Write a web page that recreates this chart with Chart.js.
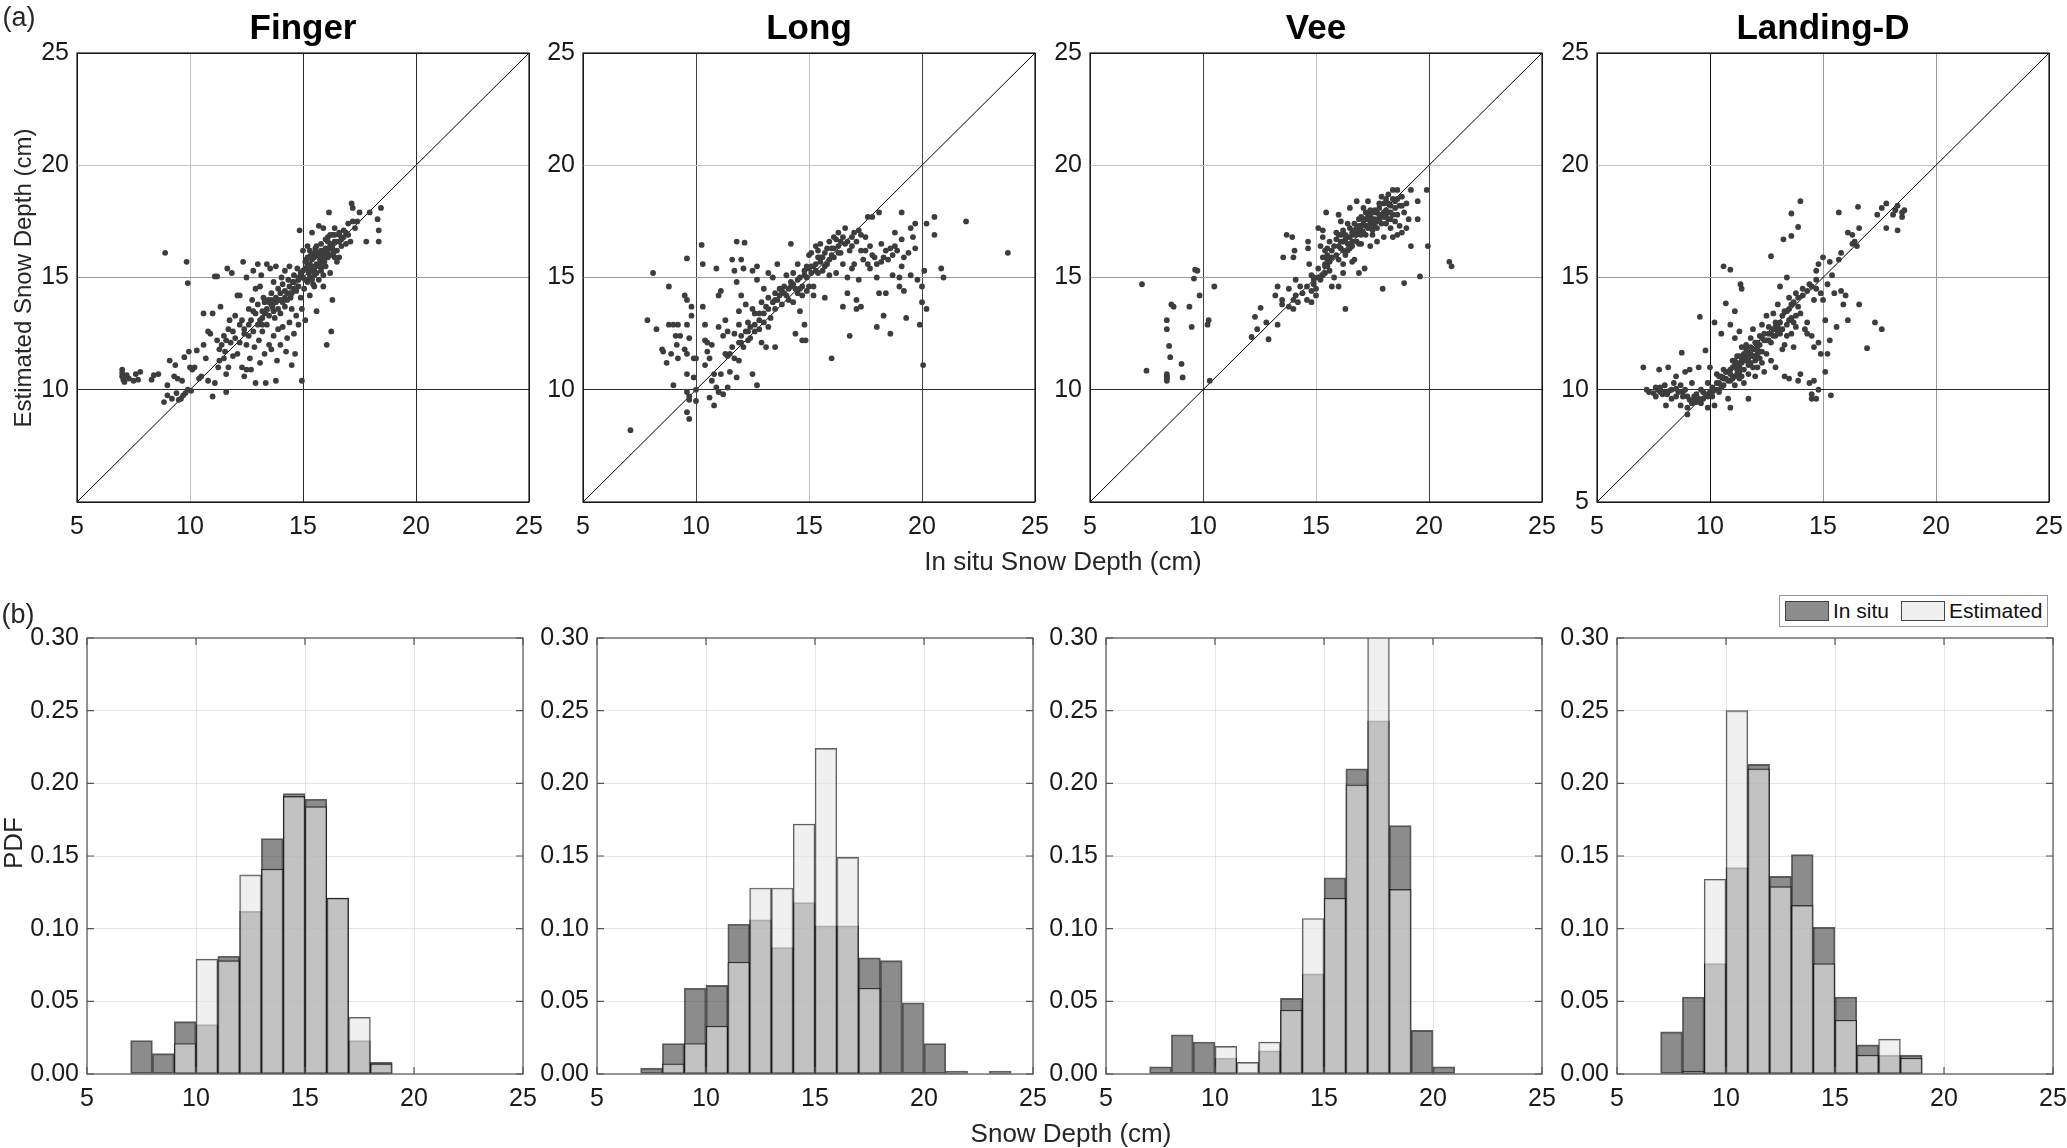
<!DOCTYPE html>
<html>
<head>
<meta charset="utf-8">
<script src="https://cdn.jsdelivr.net/npm/chart.js@4.4.1/dist/chart.umd.min.js"></script>
<style>
  body { margin: 0; background: #fff; }
  #fig { position: relative; width: 2067px; height: 1148px; overflow: hidden;
         font-family: "Liberation Sans", Arial, sans-serif; color: #262626; }
  #fig canvas { position: absolute; }
  .lbl { position: absolute; white-space: nowrap; line-height: 1; }
  #legend { position: absolute; left: 1779px; top: 595px; width: 267px; height: 30px;
            border: 1px solid #999; background: #fff; display: flex; align-items: center;
            font-size: 21px; color: #111; }
  #legend .sw { width: 42px; height: 18px; border: 1px solid #444; margin: 0 4px 0 5px; }
</style>
</head>
<body>
<div id="fig">
  <div id="legend">
    <div class="sw" style="background:#8c8c8c"></div><span>In situ</span>
    <div class="sw" style="background:#f0f0f0;margin-left:12px"></div><span>Estimated</span>
  </div>
</div>
<script>
// ---------------- data ----------------
const siteNames = ['Finger', 'Long', 'Vee', 'Landing-D'];
const depthTicks = [5, 10, 15, 20, 25];
const pdfTicks = [0, 0.05, 0.10, 0.15, 0.20, 0.25, 0.30];
const oneToOne = [5, 25];

// (a) in situ vs estimated snow depth, [in situ, estimated] in cm
const fingerPts = [
  [7.0,10.9],[7.0,10.75],[7.0,10.6],[7.05,10.45],[7.1,10.35],[7.2,10.65],[7.3,10.5],[7.5,10.4],[7.6,10.7],[7.7,10.45],[7.8,10.8],[8.3,10.45],[8.4,10.65],[8.6,10.7],
  [8.85,9.45],[8.9,16.1],[9.0,10.2],[9.0,9.75],[9.1,11.3],[9.2,9.6],[9.3,10.6],[9.35,11.1],[9.4,9.85],[9.45,10.5],[9.5,9.55],
  [9.6,9.6],[9.65,10.4],[9.7,9.75],[9.75,11.45],[9.8,9.85],[9.85,15.7],[9.9,14.75],[9.9,10.0],[9.95,11.7],[10.0,11.0],[10.05,9.95],[10.1,10.9],[10.2,11.0],[10.3,11.75],[10.4,10.5],[10.5,10.6],[10.6,13.4],[10.6,12.0],[10.7,11.4],[10.8,10.4],[10.8,12.6],
  [10.9,12.5],[11.0,9.7],[11.0,13.4],[11.1,15.05],[11.1,10.3],[11.2,15.05],[11.2,12.2],[11.25,11.0],[11.3,11.3],[11.35,13.7],[11.4,12.0],[11.5,11.4],[11.5,12.4],[11.55,11.7],[11.6,9.9],[11.6,10.7],[11.65,15.4],[11.7,12.7],[11.7,11.0],[11.75,13.1],[11.8,12.1],[11.85,15.2],[11.9,11.5],
  [12.0,12.3],[12.0,13.3],[12.1,14.2],[12.1,11.6],[12.2,14.2],[12.2,12.9],[12.3,11.0],[12.3,13.1],[12.35,15.7],[12.4,12.7],[12.4,10.6],[12.5,10.9],[12.5,15.0],[12.5,12.0],[12.6,13.6],[12.6,12.4],[12.65,11.4],[12.7,10.9],[12.7,13.1],[12.75,14.0],[12.8,15.3],[12.8,12.6],[12.85,11.9],[12.9,10.3],[12.9,14.5],
  [13.0,15.6],[13.0,13.8],[13.0,12.9],[13.05,12.2],[13.1,14.6],[13.1,11.2],[13.15,15.1],[13.2,13.5],[13.2,12.6],[13.25,14.1],[13.3,13.9],[13.3,11.6],[13.35,10.3],[13.4,15.6],[13.4,12.9],[13.45,14.0],[13.5,13.3],[13.5,12.0],[13.55,15.4],[13.6,14.3],[13.6,11.8],[13.65,13.7],[13.7,14.8],[13.7,12.4],[13.75,13.2],[13.8,15.5],[13.8,14.1],[13.8,10.4],[13.85,11.3],[13.9,12.7],[13.9,14.5],
  [14.0,14.0],[14.0,13.4],[14.0,12.0],[14.05,15.0],[14.1,14.7],[14.1,12.8],[14.2,15.3],[14.2,13.7],[14.25,11.7],[14.3,14.3],[14.3,12.3],[14.35,14.9],[14.4,13.0],[14.4,15.5],[14.45,14.1],[14.5,11.1],[14.5,13.6],[14.55,14.8],[14.6,12.5],[14.6,15.1],[14.65,11.6],[14.7,14.4],[14.7,13.3],[14.75,15.4],[14.8,14.9],[14.8,12.9],[14.85,17.1],[14.9,15.2],[14.9,14.1],[14.95,10.4],[14.95,13.6],
  [15.0,15.0],[15.0,16.2],[15.05,14.5],[15.1,15.4],[15.1,13.1],[15.15,15.8],[15.2,14.8],[15.2,16.4],[15.25,15.2],[15.3,14.2],[15.3,15.6],[15.35,16.0],[15.4,15.3],[15.4,17.0],[15.45,14.7],[15.5,15.9],[15.5,15.1],[15.55,16.3],[15.6,13.5],[15.6,15.6],[15.65,16.1],[15.7,17.3],[15.7,14.9],[15.75,15.8],[15.8,16.5],[15.8,15.3],[15.85,16.0],[15.9,17.2],[15.9,14.6],[15.95,15.7],
  [16.0,16.3],[16.0,15.5],[16.05,12.0],[16.1,16.8],[16.1,15.9],[16.15,17.9],[16.2,16.4],[16.2,15.2],[16.25,12.6],[16.3,14.0],[16.3,16.9],[16.35,16.1],[16.4,17.2],[16.4,16.6],[16.5,16.2],[16.5,15.7],[16.6,16.9],[16.6,17.0],[16.7,16.4],[16.8,16.8],[16.9,17.0],[16.9,16.5],
  [17.0,17.4],[17.1,16.6],[17.15,18.3],[17.2,18.1],[17.2,17.5],[17.3,17.2],[17.4,17.5],[17.5,17.9],[17.8,16.6],[17.95,17.9],[18.3,17.6],[18.35,17.1],[18.35,16.6],[18.45,18.1],
  [15.6,16.0],[15.8,15.9],[16.0,16.1],[15.4,15.5],[15.2,15.5],[15.0,15.3],[14.8,15.0],[14.6,14.8],[14.4,14.6],[14.2,14.4],[13.9,14.0],[13.6,13.8],[13.4,13.6],[13.2,13.2],[16.3,16.5],[16.1,16.6],[15.9,16.2],[15.7,15.5],[15.5,15.4],[15.3,15.0],
  [15.1,15.7],[15.2,15.9],[15.3,16.2],[15.4,15.8],[15.5,16.1],[15.6,16.4],[15.7,16.0],[15.8,16.2],[15.9,15.5],[16.0,15.9],[16.1,16.2],[16.2,16.0],[16.3,16.3],[16.4,15.9],[16.5,16.6],[15.3,15.3],[15.1,14.9],[15.4,14.9],[15.6,15.2],[15.8,15.7],[16.0,16.7],[16.2,16.9],[16.4,16.9],[16.6,16.6],[16.8,17.1],[17.0,16.9],[16.7,16.7],
  [14.5,14.3],[14.3,14.0],[14.1,13.9],[13.9,13.6],[13.7,13.5],[13.5,13.9],[13.3,13.4],[13.1,13.1],[13.6,14.0],[13.8,13.9],[14.0,14.3],[14.2,14.1],[14.6,14.5],[14.8,14.6],[12.6,12.9],[12.4,12.5],[12.9,13.4],[13.2,12.9],[11.9,12.6],[11.6,12.2],[11.3,11.8],[12.2,12.1],[12.8,13.5],[16.6,15.9],[15.5,14.6],[15.9,15.1]
];

const longPts = [
  [7.1,8.2],[7.85,13.1],[8.1,15.2],[8.25,12.7],[8.5,11.8],[8.55,11.7],[8.7,11.2],[8.8,14.6],[8.8,12.9],[8.9,11.6],[9.0,10.2],[9.0,12.9],[9.1,12.4],[9.15,12.0],[9.2,12.9],[9.2,11.4],[9.3,12.4],
  [9.5,14.2],[9.5,11.8],[9.6,15.85],[9.6,14.0],[9.6,12.9],[9.6,10.7],[9.6,11.6],[9.6,9.9],[9.7,9.7],[9.7,9.55],[9.6,9.0],[9.7,8.7],[9.7,12.3],[9.8,13.3],[9.8,13.7],[9.9,11.4],[9.9,10.55],[10.0,11.4],[10.0,9.5],[10.0,10.0],
  [10.25,16.45],[10.3,15.6],[10.3,13.7],[10.4,12.2],[10.4,11.1],[10.4,12.9],[10.5,12.1],[10.5,11.7],[10.6,11.4],[10.6,9.65],[10.7,10.4],[10.7,12.0],[10.8,10.7],[10.8,9.3],[10.9,10.1],[10.9,15.4],[11.0,12.8],[11.0,9.9],[11.0,14.2],[11.1,14.4],[11.1,10.7],[11.2,12.4],[11.2,9.8],[11.3,13.1],[11.3,11.6],[11.4,12.6],[11.4,10.1],[11.5,11.6],[11.5,10.8],[11.6,15.8],[11.7,15.3],[11.7,12.5],[11.7,11.4],[11.8,14.8],[11.8,16.6],[11.8,10.55],[11.9,13.5],[11.9,12.9],[11.9,11.3],[12.0,15.8],[12.0,14.2],[12.0,12.1],[12.1,15.4],[12.1,11.9],[12.15,16.55],[12.2,13.8],[12.2,12.6],[12.3,12.2],[12.3,13.0],
  [12.4,12.3],[12.5,15.3],[12.5,13.6],[12.5,10.7],[12.6,12.9],[12.6,13.4],[12.7,15.5],[12.7,10.2],[12.7,14.9],[12.8,12.7],[12.8,13.4],[12.9,13.9],[12.9,12.1],[13.0,13.0],[13.0,14.5],[13.1,13.7],[13.1,11.9],[13.2,15.2],[13.2,12.8],[13.2,14.1],[13.3,13.2],[13.4,13.9],[13.4,15.0],[13.5,11.9],[13.5,14.3],[13.5,13.6],[13.6,15.6],[13.6,14.0],
  [13.7,14.5],[13.8,14.4],[13.8,13.8],[13.9,14.6],[14.0,14.2],[14.0,15.1],[14.1,14.0],[14.2,16.5],[14.2,14.8],[14.3,13.9],[14.3,15.2],[14.4,12.5],[14.4,14.5],[14.5,15.6],[14.5,14.3],[14.6,13.5],[14.6,15.0],[14.7,14.6],[14.7,12.2],[14.8,15.3],[14.8,12.9],[14.85,12.2],[14.9,14.4],[14.9,15.5],[15.0,14.6],[15.0,16.0],[15.0,15.4],
  [15.1,15.2],[15.1,16.1],[15.2,14.6],[15.2,14.2],[15.3,15.6],[15.3,16.4],[15.4,15.9],[15.5,15.7],[15.5,16.5],[15.6,15.3],[15.7,14.1],[15.7,16.1],[15.8,15.6],[15.9,16.6],[15.9,15.1],[16.0,11.4],[16.0,16.3],[16.1,15.9],[16.1,16.8],[16.2,15.2],[16.3,16.4],[16.3,17.0],[16.4,16.1],[16.5,15.6],[16.5,13.7],[16.6,17.2],[16.6,16.5],[16.7,15.0],[16.7,14.3],[16.8,12.4],[16.8,16.2],[16.9,15.4],[16.9,16.8],
  [17.0,15.6],[17.0,17.0],[17.1,14.0],[17.1,13.6],[17.2,14.9],[17.2,17.1],[17.3,16.2],[17.3,13.7],[17.4,15.8],[17.5,16.8],[17.6,17.7],[17.7,16.4],[17.7,15.4],[17.8,17.7],[17.9,15.9],[18.0,12.8],[18.0,15.0],[18.1,17.9],[18.1,14.3],[18.2,15.7],[18.2,16.5],[18.3,13.3],[18.4,14.3],[18.4,16.2],
  [18.5,15.8],[18.6,12.5],[18.7,16.0],[18.7,15.1],[18.8,17.0],[18.9,16.2],[19.0,14.6],[19.0,15.0],[19.1,17.9],[19.1,15.5],[19.1,16.7],[19.2,14.4],[19.3,13.2],[19.4,16.1],[19.5,17.2],[19.5,15.1],[19.6,16.8],[19.7,17.4],[19.7,16.3],[19.8,14.9],[19.9,12.9],[20.0,13.9],[20.0,14.6],[20.05,11.1],[20.1,15.3],[20.2,17.4],[20.2,13.6],[20.55,17.7],[20.55,16.9],[20.85,15.4],[20.95,15.0],[21.95,17.5],[23.8,16.1],
  [14.5,14.9],[14.8,15.1],[15.2,15.5],[15.6,15.9],[16.0,16.0],[16.4,16.6],[13.5,14.0],[13.9,14.3],[14.2,14.6],[12.3,12.6],[12.0,12.4],[11.9,12.1],[15.4,15.2],[15.8,16.3],
  [14.1,14.5],[14.3,14.7],[14.6,14.5],[14.9,15.0],[15.1,15.5],[15.3,15.3],[15.5,15.9],[15.7,15.5],[15.9,15.8],[16.1,16.3],[16.3,16.1],[16.5,16.8],[16.7,16.6],[16.9,16.4],[17.1,16.6],[17.3,16.9],[17.5,16.2],[17.8,16.0],[18.0,15.6],[18.3,15.9],[18.6,16.3],
  [13.2,13.6],[13.0,13.4],[12.8,13.1],[12.6,12.6],[12.4,12.8],[11.6,11.9],[11.4,11.5],[13.7,14.2],[14.7,14.2],[15.4,16.2],[16.2,16.7],[17.6,15.6],[18.8,16.4],[19.2,15.9]
];

const veePts = [
  [7.3,14.7],[7.5,10.85],[8.4,10.7],[8.4,10.6],[8.4,10.5],[8.4,10.4],[8.4,10.55],[8.4,13.1],[8.4,12.7],[8.5,11.95],[8.55,11.45],[8.6,13.8],[8.7,13.7],[9.05,11.15],[9.1,10.55],
  [9.4,13.7],[9.5,12.8],[9.6,14.95],[9.65,15.35],[9.75,15.3],[9.85,14.2],[10.2,12.9],[10.25,13.1],[10.3,10.4],[10.5,14.6],
  [12.15,12.35],[12.3,13.25],[12.4,12.7],[12.55,13.65],[12.8,13.0],[12.9,12.25],[13.2,14.2],[13.3,12.9],[13.3,14.6],[13.5,14.0],[13.5,13.8],[13.55,15.9],[13.7,16.9],[13.8,14.5],[13.8,13.7],[13.95,16.8],[14.0,15.9],[14.05,16.2],[14.0,14.0],[14.0,13.6],[14.1,14.9],[14.1,14.2],[14.2,13.9],[14.3,14.6],[14.4,14.3],
  [14.6,14.0],[14.6,14.6],[14.65,16.6],[14.65,16.3],[14.7,15.6],[14.8,15.1],[14.8,14.4],[14.8,13.9],[14.9,14.7],[14.9,15.0],[15.0,14.2],[15.0,14.5],[15.1,15.4],[15.1,17.2],[15.2,14.9],[15.2,16.4],[15.3,17.1],[15.3,15.9],[15.3,16.8],[15.4,15.6],[15.4,16.2],[15.4,15.2],[15.45,17.9],[15.5,15.8],[15.5,16.0],[15.6,15.3],[15.6,16.6],[15.7,14.6],[15.7,15.9],[15.8,16.4],[15.8,15.0],[15.9,17.0],[15.9,16.7],[16.0,17.8],[16.0,14.6],[16.0,15.8],
  [16.1,16.9],[16.1,17.5],[16.1,16.3],[16.2,15.2],[16.2,17.1],[16.2,15.6],[16.3,13.6],[16.3,16.7],[16.3,16.0],[16.4,17.4],[16.4,16.8],[16.5,18.1],[16.5,17.2],[16.5,16.3],[16.6,17.0],[16.6,15.7],[16.7,16.9],[16.7,17.4],[16.7,15.8],[16.8,18.4],[16.8,16.6],[16.8,17.2],[16.9,17.6],[16.9,15.2],[16.9,16.5],
  [17.0,17.1],[17.0,16.9],[17.0,17.7],[17.1,18.1],[17.1,17.4],[17.15,15.4],[17.2,17.6],[17.2,16.9],[17.3,17.8],[17.3,18.4],[17.3,17.2],[17.4,17.5],[17.4,16.4],[17.5,17.9],[17.5,17.3],[17.5,16.9],[17.6,17.6],[17.6,18.0],[17.7,17.2],[17.7,16.6],[17.8,17.8],[17.8,18.3],[17.9,17.4],[17.95,14.5],[18.0,17.9],[18.0,16.8],
  [18.1,18.5],[18.1,18.0],[18.2,17.6],[18.2,18.7],[18.3,17.2],[18.3,18.2],[18.4,17.8],[18.4,16.8],[18.5,18.4],[18.5,17.5],[18.6,18.9],[18.6,16.9],[18.7,18.2],[18.7,17.3],[18.8,17.0],[18.9,14.75],[18.9,17.9],[19.0,18.3],[19.1,17.6],[19.2,16.4],[19.2,18.9],[19.5,18.4],[19.5,17.6],[19.6,15.05],[19.9,18.9],[19.95,16.4],[20.9,15.7],[21.0,15.5],
  [17.2,17.3],[17.4,17.7],[17.6,17.4],[17.8,17.6],[18.0,17.7],[18.2,17.9],[17.0,17.3],[16.8,17.0],[16.6,16.6],[16.4,16.5],[16.2,16.6],[16.0,16.4],[17.3,17.6],[17.5,17.6],[17.7,17.9],[18.1,17.4],[18.3,17.9],[18.5,18.1],[15.6,15.7],[15.4,15.5],[15.5,16.3],
  [16.1,16.6],[16.3,16.9],[16.5,16.8],[16.7,17.1],[16.9,17.3],[17.1,17.6],[17.2,17.9],[17.4,18.0],[17.6,17.9],[17.8,18.1],[18.0,18.3],[18.2,18.3],[18.4,18.5],[18.6,18.5],[18.8,18.6],[17.1,17.0],[17.3,17.3],[17.5,17.1],[17.7,17.5],[17.9,17.8],
  [18.1,17.7],[18.3,17.6],[18.6,17.8],[16.4,16.2],[16.6,16.4],[16.8,16.9],[15.9,16.0],[15.7,16.2],[15.5,15.5],[15.3,15.1],[15.1,15.0],[14.9,14.9],[16.0,16.9],[16.2,16.2],[17.0,16.5],[18.4,18.9],[18.8,18.2],[19.0,17.2],[17.9,18.6]
];

const landingPts = [
  [7.05,11.0],[7.2,10.0],[7.3,9.9],[7.5,9.85],[7.6,9.7],[7.7,10.0],[7.8,9.9],[7.8,10.1],[7.75,10.9],[8.0,9.9],[8.0,10.2],[8.05,9.3],[8.1,9.8],[8.15,11.0],[8.3,10.0],[8.4,10.3],[8.5,10.6],[8.6,9.9],[8.7,9.3],[8.7,10.2],[8.75,11.65],[8.9,10.0],[8.9,10.8],[9.0,9.2],[9.0,9.7],[9.1,10.9],[9.0,8.9],[9.2,10.3],[9.3,9.7],[9.3,9.5],[9.4,9.8],[9.5,11.0],[9.55,13.25],[9.6,9.4],[9.6,10.0],[9.7,9.6],[9.8,11.75],[9.8,9.8],[9.9,9.2],[9.9,10.3],
  [10.0,11.0],[10.0,9.9],[10.1,10.1],[10.2,9.3],[10.2,13.0],[10.3,10.3],[10.3,10.7],[10.4,9.9],[10.5,12.5],[10.5,10.6],[10.6,15.5],[10.6,10.2],[10.7,10.8],[10.7,13.85],[10.8,9.6],[10.8,10.4],[10.9,15.35],[10.9,9.2],[10.9,10.9],[10.9,12.9],[11.0,11.3],[11.0,10.5],[11.1,13.5],[11.1,12.3],[11.1,11.1],[11.2,10.7],[11.2,11.5],[11.3,12.6],[11.3,11.0],[11.7,9.6],[11.35,14.7],[11.4,14.5],[11.4,11.9],[11.5,11.3],[11.5,10.3],[11.6,12.0],[11.6,11.5],[11.7,11.1],[11.7,10.7],[11.8,12.3],[11.8,11.6],[11.9,11.0],[11.9,12.7],
  [12.0,11.8],[12.0,11.3],[12.1,12.1],[12.1,11.0],[12.2,12.4],[12.2,11.7],[12.3,11.2],[12.3,12.9],[12.4,12.2],[12.4,10.8],[12.5,13.3],[12.5,11.6],[12.6,12.5],[12.7,15.95],[12.7,12.1],[12.7,11.3],[12.8,13.4],[12.8,12.7],[12.9,12.4],[12.9,11.0],[13.0,12.8],[13.0,13.8],[13.1,14.6],[13.1,12.5],[13.2,11.8],[13.2,13.3],[13.3,10.6],[13.3,12.0],[13.25,16.7],[13.4,15.0],[13.4,13.5],[13.4,12.4],[13.5,10.5],[13.5,13.1],[13.5,14.1],[13.6,16.85],[13.6,17.85],[13.6,12.5],[13.6,13.8],[13.7,13.0],[13.7,11.9],[13.8,14.3],[13.8,12.8],[13.9,10.4],[13.9,14.1],[13.9,17.25],[14.0,18.4],[14.0,13.4],[14.0,10.7],
  [14.1,14.5],[14.2,12.7],[14.3,13.0],[14.3,12.5],[14.4,10.3],[14.4,14.7],[14.5,9.6],[14.5,12.4],[14.5,9.8],[14.6,14.0],[14.6,10.4],[14.6,11.9],[14.7,14.9],[14.7,9.6],[14.7,15.3],[14.8,15.6],[14.8,12.1],[14.8,10.0],[14.9,14.3],[14.9,11.6],[15.0,14.0],[15.0,15.9],[15.1,10.8],[15.1,13.1],[15.2,14.7],[15.2,11.6],[15.3,12.2],[15.3,15.7],[15.35,9.75],[15.4,15.1],[15.5,14.3],[15.6,12.8],[15.7,15.8],[15.7,17.9],[15.8,14.4],[15.8,16.1],[15.9,13.8],[16.0,14.2],[16.1,17.0],[16.1,13.1],[16.3,16.9],[16.3,16.5],[16.4,16.6],[16.5,16.4],[16.55,18.15],[16.6,17.2],[16.6,13.8],[16.95,11.85],[17.3,13.0],[17.4,17.8],[17.6,12.7],[17.6,18.1],[17.8,18.3],[17.8,17.2],[18.1,17.8],[18.2,18.0],[18.3,18.2],[18.3,17.1],[18.5,17.9],[18.5,17.7],[18.6,18.0],
  [11.2,10.9],[11.4,11.2],[11.5,10.9],[11.6,11.3],[11.7,11.6],[11.8,11.2],[11.9,11.5],[12.0,11.5],[11.3,10.8],[11.4,10.6],[11.1,10.6],[10.9,10.4],[10.8,10.8],[10.6,10.5],[10.5,10.1],[10.4,10.3],[10.2,10.0],[12.1,11.9],[12.2,11.4],[12.3,11.7],
  [8.2,9.95],[8.5,10.05],[8.8,9.7],[9.1,9.55],[9.4,9.45],[9.7,9.9],[10.1,9.7],[12.6,12.2],[12.9,12.8],[13.2,12.7],
  [11.0,11.0],[11.1,11.3],[11.2,11.2],[11.3,11.5],[11.4,11.4],[11.5,11.6],[11.6,11.8],[11.7,11.4],[11.8,11.9],[11.9,11.8],[12.0,12.1],[12.1,11.6],[12.2,12.0],[12.3,12.3],[12.4,12.5],[12.5,12.2],[12.6,12.8],[12.7,12.5],[12.8,12.4],[12.9,13.0],
  [13.0,12.6],[13.1,13.0],[13.3,13.5],[13.5,13.6],[13.7,13.9],[13.9,13.7],[14.1,14.2],[14.3,14.4],[14.5,14.6],[14.7,14.5],[10.7,10.5],[10.9,10.7],[10.3,10.0],[10.1,9.9],[9.9,9.7],[9.5,9.6],[9.2,9.4],[8.8,9.9],[8.5,9.7],[8.3,9.6],
  [7.9,9.8],[7.6,10.1],[10.6,10.9],[10.4,10.6],[11.1,10.2],[11.3,10.5],[12.0,10.6],[13.4,12.9],[13.6,13.2],[13.8,13.3]
];

// (b) PDF per 1 cm bin, bins centred at 5.5 ... 24.5
const binCenters = [5.5, 6.5, 7.5, 8.5, 9.5, 10.5, 11.5, 12.5, 13.5, 14.5, 15.5, 16.5, 17.5, 18.5, 19.5, 20.5, 21.5, 22.5, 23.5, 24.5];
const fingerInSitu  = [0, 0, 0.023, 0.014, 0.036, 0.034, 0.081, 0.112, 0.162, 0.193, 0.189, 0.121, 0.023, 0.008, 0, 0, 0, 0, 0, 0];
const fingerEst     = [0, 0, 0, 0, 0.021, 0.079, 0.078, 0.137, 0.141, 0.191, 0.184, 0.121, 0.039, 0.007, 0, 0, 0, 0, 0, 0];
const longInSitu    = [0, 0, 0.004, 0.021, 0.059, 0.061, 0.103, 0.106, 0.087, 0.118, 0.102, 0.102, 0.080, 0.078, 0.049, 0.021, 0.002, 0, 0.002, 0];
const longEst       = [0, 0, 0, 0.007, 0.021, 0.033, 0.077, 0.128, 0.128, 0.172, 0.224, 0.149, 0.059, 0, 0, 0, 0, 0, 0, 0];
const veeInSitu     = [0, 0, 0.005, 0.027, 0.022, 0.011, 0, 0.016, 0.052, 0.069, 0.135, 0.210, 0.243, 0.171, 0.030, 0.005, 0, 0, 0, 0];
const veeEst        = [0, 0, 0, 0, 0, 0.019, 0.008, 0.022, 0.044, 0.107, 0.121, 0.199, 0.315, 0.127, 0, 0, 0, 0, 0, 0];
const landingInSitu = [0, 0, 0.029, 0.053, 0.076, 0.142, 0.213, 0.136, 0.151, 0.101, 0.053, 0.020, 0.013, 0.013, 0, 0, 0, 0, 0, 0];
const landingEst    = [0, 0, 0, 0.002, 0.134, 0.250, 0.210, 0.129, 0.116, 0.076, 0.037, 0.013, 0.024, 0.011, 0, 0, 0, 0, 0, 0];

const scatterSets = [fingerPts, longPts, veePts, landingPts];
const histSets = [[fingerInSitu, fingerEst], [longInSitu, longEst], [veeInSitu, veeEst], [landingInSitu, landingEst]];

// ---------------- layout ----------------
const FONT = '"Liberation Sans", Arial, sans-serif';
Chart.defaults.font.family = FONT;
Chart.defaults.font.size = 25;
Chart.defaults.color = '#262626';

// scatter axes boxes
const scLefts = [77, 583, 1090, 1597];
const SC_W = 452, SC_TOP = 53, SC_H = 449;
// histogram axes boxes (slightly narrower, shifted right)
const hLefts = [87, 597, 1106, 1617];
const H_W = 436, H_TOP = 635, H_H = 439;
const TITLE_H = 45, AX_X = 48, PAD_R = 24;

// gridline shades of the scatter panels (dark / light lines as in the figure)
const DK = '#2a2a2a', MD = '#9a9a9a', LT = '#c4c4c4';
const xGridShade = [
  {10: LT, 15: DK, 20: DK},
  {10: '#444', 15: LT, 20: '#444'},
  {10: '#444', 15: LT, 20: '#444'},
  {10: '#111', 15: MD, 20: MD}
];
const yGridShade = {10: DK, 15: MD, 20: LT};

const fig = document.getElementById('fig');

function addCanvas(left, top, w, h) {
  const c = document.createElement('canvas');
  c.width = w; c.height = h;
  c.style.left = left + 'px'; c.style.top = top + 'px';
  c.style.width = w + 'px'; c.style.height = h + 'px';
  fig.appendChild(c);
  return c;
}

function addLabel(text, cx, cy, size, rotate) {
  const d = document.createElement('div');
  d.className = 'lbl';
  d.textContent = text;
  d.style.fontSize = size + 'px';
  d.style.left = cx + 'px';
  d.style.top = cy + 'px';
  d.style.transform = 'translate(-50%,-50%)' + (rotate ? ' rotate(-90deg)' : '');
  fig.appendChild(d);
}

// axes box + inward tick marks
const framePlugin = {
  id: 'frame',
  afterDatasetsDraw(chart, args, opts) {
    const {ctx, chartArea: a} = chart;
    const xs = chart.scales.x, ys = chart.scales.y;
    ctx.save();
    ctx.strokeStyle = opts.color;
    ctx.lineWidth = 1.2;
    ctx.strokeRect(a.left, a.top, a.width, a.height);
    const len = opts.tick;
    ctx.beginPath();
    xs.ticks.forEach(t => {
      const p = xs.getPixelForValue(t.value);
      ctx.moveTo(p, a.bottom); ctx.lineTo(p, a.bottom - len);
      ctx.moveTo(p, a.top); ctx.lineTo(p, a.top + len);
    });
    ys.ticks.forEach(t => {
      const p = ys.getPixelForValue(t.value);
      ctx.moveTo(a.left, p); ctx.lineTo(a.left + len, p);
      ctx.moveTo(a.right, p); ctx.lineTo(a.right - len, p);
    });
    ctx.stroke();
    ctx.restore();
  }
};

function fixTicks(values) {
  return s => { s.ticks = values.map(v => ({value: v})); };
}

// ---------------- (a) scatter panels ----------------
scatterSets.forEach((pts, i) => {
  const yAxisW = 70;
  const c = addCanvas(scLefts[i] - yAxisW, SC_TOP - TITLE_H, yAxisW + SC_W + PAD_R, TITLE_H + SC_H + AX_X);
  new Chart(c, {
    type: 'scatter',
    data: {
      datasets: [
        {
          data: pts.map(p => ({x: p[0], y: p[1]})),
          pointRadius: 2.9,
          pointBackgroundColor: '#3d3d3d',
          pointBorderWidth: 0,
          order: 0
        },
        {
          data: oneToOne.map(v => ({x: v, y: v})),
          showLine: true,
          borderColor: '#000',
          borderWidth: 1,
          pointRadius: 0,
          order: 1
        }
      ]
    },
    options: {
      responsive: false,
      animation: false,
      devicePixelRatio: 1,
      layout: {padding: {top: 0, right: PAD_R, bottom: 0, left: 0}},
      plugins: {
        legend: {display: false},
        tooltip: {enabled: false},
        title: {
          display: true, text: siteNames[i], color: '#000', fullSize: false,
          font: {size: 35, weight: 'bold'}, padding: {top: 0, bottom: 3}
        },
        frame: {color: '#1a1a1a', tick: 0}
      },
      scales: {
        x: {
          type: 'linear', min: 5, max: 25,
          afterBuildTicks: fixTicks(depthTicks),
          afterFit: s => { s.height = AX_X; },
          border: {display: false},
          grid: {drawTicks: false, lineWidth: 1, color: ctx => xGridShade[i][ctx.tick.value] || '#1a1a1a'},
          ticks: {padding: 10, color: '#1a1a1a', callback: v => v}
        },
        y: {
          type: 'linear', min: 5, max: 25,
          afterBuildTicks: fixTicks(depthTicks),
          afterFit: s => { s.width = yAxisW; },
          border: {display: false},
          grid: {drawTicks: false, lineWidth: 1, color: ctx => yGridShade[ctx.tick.value] || '#1a1a1a'},
          ticks: {padding: 8, color: '#1a1a1a', callback: v => (v === 5 && i < 3) ? '' : v}
        }
      }
    },
    plugins: [framePlugin]
  });
});

// ---------------- (b) histogram panels ----------------
histSets.forEach((pair, i) => {
  const yAxisW = 80, padTop = 20;
  const c = addCanvas(hLefts[i] - yAxisW, H_TOP - padTop, yAxisW + H_W + PAD_R, padTop + H_H + AX_X);
  new Chart(c, {
    type: 'bar',
    data: {
      datasets: [
        {
          label: 'Estimated',
          data: binCenters.map((b, k) => ({x: b, y: pair[1][k]})),
          backgroundColor: 'rgba(230,230,230,0.6)',
          borderColor: 'rgba(0,0,0,0.62)',
          order: 0
        },
        {
          label: 'In situ',
          data: binCenters.map((b, k) => ({x: b, y: pair[0][k]})),
          backgroundColor: 'rgba(64,64,64,0.6)',
          borderColor: 'rgba(0,0,0,0.62)',
          order: 1
        }
      ]
    },
    options: {
      responsive: false,
      animation: false,
      devicePixelRatio: 1,
      layout: {padding: {top: padTop, right: PAD_R, bottom: 0, left: 0}},
      datasets: {bar: {grouped: false, barPercentage: 1, categoryPercentage: 1, borderWidth: 1.2, borderSkipped: false}},
      plugins: {
        legend: {display: false},
        tooltip: {enabled: false},
        frame: {color: '#555', tick: 7}
      },
      scales: {
        x: {
          type: 'linear', min: 5, max: 25, offset: false,
          afterBuildTicks: fixTicks(depthTicks),
          afterFit: s => { s.height = AX_X; },
          border: {display: false},
          grid: {drawTicks: false, color: 'rgba(0,0,0,0.1)', offset: false},
          ticks: {padding: 10, color: '#1a1a1a', callback: v => v}
        },
        y: {
          min: 0, max: 0.3,
          afterBuildTicks: fixTicks(pdfTicks),
          afterFit: s => { s.width = yAxisW; },
          border: {display: false},
          grid: {drawTicks: false, color: 'rgba(0,0,0,0.1)'},
          ticks: {padding: 8, color: '#1a1a1a', callback: v => Number(v).toFixed(2)}
        }
      }
    },
    plugins: [framePlugin]
  });
});

// ---------------- figure-level labels ----------------
addLabel('(a)', 19, 17, 27);
addLabel('(b)', 18, 614, 27);
addLabel('Estimated Snow Depth (cm)', 23, 278, 24, true);
addLabel('PDF', 13, 843, 26, true);
addLabel('In situ Snow Depth (cm)', 1063, 561, 26);
addLabel('Snow Depth (cm)', 1071, 1133, 26);
</script>
</body>
</html>
